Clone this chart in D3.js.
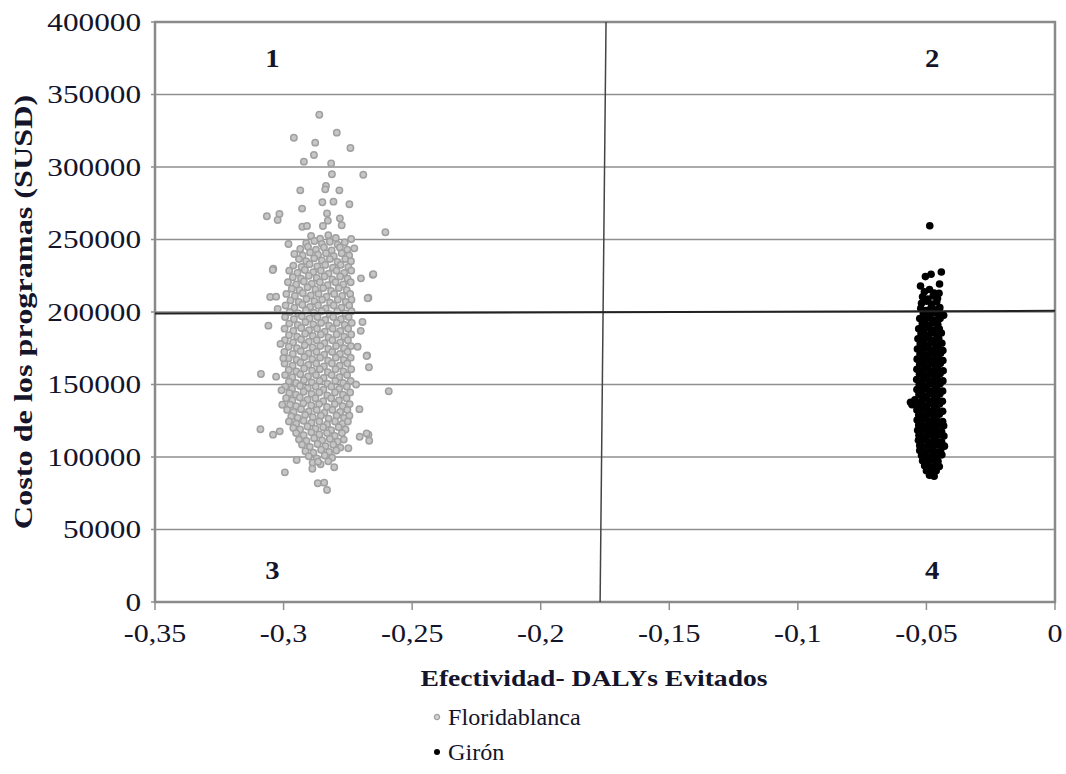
<!DOCTYPE html>
<html>
<head>
<meta charset="utf-8">
<script src="https://cdn.jsdelivr.net/npm/d3@7"></script>
<style>
  body { margin: 0; background: #fff; }
  text { font-family: "Liberation Serif", "Times New Roman", serif; fill: #14142a; }
</style>
</head>
<body>
<div id="chart"></div>
<script>
// tick values and labels
var xTicks = [-0.35, -0.3, -0.25, -0.2, -0.15, -0.1, -0.05, 0];
var xTickLabels = ["-0,35", "-0,3", "-0,25", "-0,2", "-0,15", "-0,1", "-0,05", "0"];
var yTicks = [0, 50000, 100000, 150000, 200000, 250000, 300000, 350000, 400000];
var yTickLabels = ["0", "50000", "100000", "150000", "200000", "250000", "300000", "350000", "400000"];

// quadrant split lines (slightly tilted in the original)
var splitX = [[-0.1746, 400000], [-0.1769, 0]];
var splitY = [[-0.35, 199000], [0, 200800]];
var quadrants = [["1", -0.3043, 375000], ["2", -0.0478, 375000], ["3", -0.3043, 22000], ["4", -0.0478, 22000]];

// Floridablanca simulations [DALYs, cost]
var floridablanca = [
  [-0.2893,252500],[-0.2858,250500],[-0.2826,253000],[-0.2797,251000],
  [-0.2912,247500],[-0.2880,249000],[-0.2851,247000],[-0.2820,248500],[-0.2790,246500],[-0.2762,248000],
  [-0.2935,243500],[-0.2905,245000],[-0.2874,243000],[-0.2843,244500],[-0.2813,242500],[-0.2781,244500],[-0.2752,243000],
  [-0.2958,240000],[-0.2926,239000],[-0.2897,241000],[-0.2866,239500],[-0.2835,240500],[-0.2805,238500],[-0.2774,240500],[-0.2745,239000],
  [-0.2940,236500],[-0.2912,235000],[-0.2881,237000],[-0.2851,235500],[-0.2820,236500],[-0.2790,234500],[-0.2760,236500],[-0.2738,235000],
  [-0.2962,232000],[-0.2930,231000],[-0.2899,233000],[-0.2869,231500],[-0.2838,232500],[-0.2808,230500],[-0.2778,232500],[-0.2748,231000],
  [-0.2978,228500],[-0.2946,227000],[-0.2917,229000],[-0.2885,227500],[-0.2855,228500],[-0.2825,226500],[-0.2794,228500],[-0.2764,227000],[-0.2737,228500],
  [-0.2964,224000],[-0.2932,223000],[-0.2902,225000],[-0.2871,223500],[-0.2841,224500],[-0.2810,222500],[-0.2780,224500],[-0.2751,223000],
  [-0.2983,220500],[-0.2951,219000],[-0.2921,221000],[-0.2890,219500],[-0.2859,220500],[-0.2829,218500],[-0.2798,220500],[-0.2768,219000],[-0.2739,220500],
  [-0.2968,216000],[-0.2938,215000],[-0.2907,217000],[-0.2876,215500],[-0.2846,216500],[-0.2815,214500],[-0.2785,216500],[-0.2754,215000],
  [-0.2989,212500],[-0.2956,211000],[-0.2925,213000],[-0.2894,211500],[-0.2864,212500],[-0.2833,210500],[-0.2803,212500],[-0.2772,211000],[-0.2741,212500],
  [-0.2973,208000],[-0.2941,207000],[-0.2911,209000],[-0.2880,207500],[-0.2850,208500],[-0.2819,206500],[-0.2789,208500],[-0.2758,207000],[-0.2736,208500],
  [-0.2992,204500],[-0.2958,203000],[-0.2927,205000],[-0.2897,203500],[-0.2866,204500],[-0.2836,202500],[-0.2805,204500],[-0.2775,203000],[-0.2745,204500],
  [-0.2976,200000],[-0.2943,199000],[-0.2913,201000],[-0.2882,199500],[-0.2852,200500],[-0.2821,198500],[-0.2791,200500],[-0.2760,199000],[-0.2736,200500],
  [-0.2994,196500],[-0.2960,195000],[-0.2929,197000],[-0.2899,195500],[-0.2868,196500],[-0.2838,194500],[-0.2807,196500],[-0.2777,195000],[-0.2747,196500],
  [-0.2978,192000],[-0.2945,191000],[-0.2915,193000],[-0.2884,191500],[-0.2854,192500],[-0.2823,190500],[-0.2793,192500],[-0.2762,191000],[-0.2735,192500],
  [-0.2996,188500],[-0.2962,187000],[-0.2931,189000],[-0.2901,187500],[-0.2870,188500],[-0.2840,186500],[-0.2809,188500],[-0.2779,187000],[-0.2749,188500],
  [-0.2979,184000],[-0.2947,183000],[-0.2916,185000],[-0.2886,183500],[-0.2855,184500],[-0.2825,182500],[-0.2794,184500],[-0.2764,183000],[-0.2737,184500],
  [-0.2995,180500],[-0.2963,179000],[-0.2932,181000],[-0.2902,179500],[-0.2871,180500],[-0.2841,178500],[-0.2810,180500],[-0.2780,179000],[-0.2750,180500],
  [-0.2980,176000],[-0.2948,175000],[-0.2918,177000],[-0.2887,175500],[-0.2857,176500],[-0.2826,174500],[-0.2796,176500],[-0.2765,175000],[-0.2738,176500],
  [-0.2997,172500],[-0.2964,171000],[-0.2933,173000],[-0.2903,171500],[-0.2872,172500],[-0.2842,170500],[-0.2811,172500],[-0.2781,171000],[-0.2751,172500],
  [-0.2981,168000],[-0.2949,167000],[-0.2919,169000],[-0.2888,167500],[-0.2858,168500],[-0.2827,166500],[-0.2797,168500],[-0.2766,167000],[-0.2739,168500],
  [-0.2996,164500],[-0.2965,163000],[-0.2934,165000],[-0.2904,163500],[-0.2873,164500],[-0.2843,162500],[-0.2812,164500],[-0.2782,163000],[-0.2752,164500],
  [-0.2980,160000],[-0.2950,159000],[-0.2920,161000],[-0.2889,159500],[-0.2859,160500],[-0.2828,158500],[-0.2798,160500],[-0.2767,159000],[-0.2737,160500],
  [-0.2994,156500],[-0.2966,155000],[-0.2935,157000],[-0.2905,155500],[-0.2874,156500],[-0.2844,154500],[-0.2813,156500],[-0.2783,155000],[-0.2753,156500],
  [-0.2979,152000],[-0.2951,151000],[-0.2921,153000],[-0.2890,151500],[-0.2860,152500],[-0.2829,150500],[-0.2799,152500],[-0.2768,151000],[-0.2739,152500],
  [-0.2993,148500],[-0.2967,147000],[-0.2936,149000],[-0.2906,147500],[-0.2875,148500],[-0.2845,146500],[-0.2814,148500],[-0.2784,147000],[-0.2754,148500],
  [-0.2978,144000],[-0.2952,143000],[-0.2922,145000],[-0.2891,143500],[-0.2861,144500],[-0.2830,142500],[-0.2800,144500],[-0.2769,143000],[-0.2741,144500],
  [-0.2990,140500],[-0.2966,139000],[-0.2937,141000],[-0.2907,139500],[-0.2876,140500],[-0.2846,138500],[-0.2815,140500],[-0.2785,139000],[-0.2755,140500],
  [-0.2975,136000],[-0.2951,135000],[-0.2923,137000],[-0.2892,135500],[-0.2862,136500],[-0.2831,134500],[-0.2801,136500],[-0.2770,135000],[-0.2743,136500],
  [-0.2986,132500],[-0.2961,131000],[-0.2932,133000],[-0.2902,131500],[-0.2871,132500],[-0.2841,130500],[-0.2810,132500],[-0.2780,131000],[-0.2752,132500],
  [-0.2970,128000],[-0.2945,127000],[-0.2916,129000],[-0.2886,127500],[-0.2855,128500],[-0.2825,126500],[-0.2794,128500],[-0.2765,127000],[-0.2744,128500],
  [-0.2979,124500],[-0.2951,123000],[-0.2922,125000],[-0.2892,123500],[-0.2861,124500],[-0.2831,122500],[-0.2800,124500],[-0.2771,123000],[-0.2750,124500],
  [-0.2962,120000],[-0.2936,119000],[-0.2907,121000],[-0.2876,119500],[-0.2846,120500],[-0.2815,118500],[-0.2786,120500],[-0.2759,119000],
  [-0.2951,116500],[-0.2922,115000],[-0.2892,117000],[-0.2861,115500],[-0.2831,116500],[-0.2801,114500],[-0.2773,116500],
  [-0.2940,112000],[-0.2911,111000],[-0.2881,113000],[-0.2850,111500],[-0.2820,112500],[-0.2790,110500],[-0.2766,112000],
  [-0.2928,108500],[-0.2898,107000],[-0.2868,109000],[-0.2837,107500],[-0.2807,108500],[-0.2779,106500],
  [-0.2915,104000],[-0.2884,103000],[-0.2854,105000],[-0.2823,103500],[-0.2795,104500],
  [-0.2902,100500],[-0.2871,99000],[-0.2840,101000],[-0.2811,99500],
  [-0.2887,96000],[-0.2856,95000],[-0.2826,97000],
  // scattered points around the main cloud
  [-0.2861,336000],[-0.2960,320200],[-0.2793,323700],[-0.2877,316800],[-0.2740,313100],[-0.2882,308300],
  [-0.2921,303700],[-0.2815,302500],[-0.2812,295000],[-0.2690,294700],[-0.2935,283900],[-0.2835,286900],
  [-0.2838,284600],[-0.2783,283900],[-0.2849,275700],[-0.2806,276100],[-0.2744,274300],[-0.2928,271300],
  [-0.3065,266000],[-0.3016,267600],[-0.3023,263400],[-0.2831,268000],[-0.2828,263000],[-0.2781,264600],
  [-0.2774,259800],[-0.2927,258800],[-0.2909,259300],[-0.2847,259300],[-0.2604,255000],[-0.2981,246900],
  [-0.2725,243900],[-0.2737,250300],[-0.3040,229900],[-0.2653,225700],[-0.2699,223200],[-0.3052,210300],
  [-0.3029,210600],[-0.2670,209900],[-0.3023,202100],[-0.3059,190600],[-0.2693,193100],[-0.2675,170100],
  [-0.3088,157200],[-0.3029,155400],[-0.2668,161900],[-0.2591,145300],[-0.3090,119100],[-0.3041,115400],
  [-0.3015,117700],[-0.2704,114000],[-0.2670,115400],[-0.2667,111200],[-0.2995,89400],[-0.2888,91900],
  [-0.2803,92900],[-0.2867,81900],[-0.2842,82300],[-0.2831,77200],[-0.2949,97900],[-0.2866,96800],
  [-0.2677,116300],[-0.2748,106000],[-0.3042,229000],[-0.2651,226000],[-0.2673,209500],[-0.2677,169700],
  [-0.3001,168100],[-0.2712,176000],[-0.2718,150000],[-0.2705,133000],[-0.2700,187000],[-0.3012,178000],
  [-0.3008,146000],[-0.3005,136000]
];

// Girón simulations [DALYs, cost]
var giron = [
  [-0.0487,259500],[-0.0442,227600],[-0.0482,226000],[-0.0504,224400],[-0.0523,217900],[-0.0449,219300],
  [-0.0451,212900],[-0.0433,197700],
  [-0.0508,214000],[-0.0488,215500],[-0.0470,213000],
  [-0.0515,210500],[-0.0495,209000],[-0.0474,211000],[-0.0457,209500],
  [-0.0519,206000],[-0.0499,207500],[-0.0479,205500],[-0.0460,207000],
  [-0.0522,202500],[-0.0502,201000],[-0.0482,203000],[-0.0462,201500],[-0.0448,203000],
  [-0.0512,199000],[-0.0492,198000],[-0.0472,199500],[-0.0453,198500],
  [-0.0526,195500],[-0.0506,194500],[-0.0486,196000],[-0.0466,194500],[-0.0447,195500],
  [-0.0516,192000],[-0.0496,191000],[-0.0476,192500],[-0.0456,191500],
  [-0.0530,188500],[-0.0510,187500],[-0.0490,189000],[-0.0470,187500],[-0.0450,188500],
  [-0.0521,185000],[-0.0500,184000],[-0.0480,185500],[-0.0460,184500],[-0.0442,185500],
  [-0.0533,181500],[-0.0512,180500],[-0.0492,182000],[-0.0472,180500],[-0.0452,181500],
  [-0.0524,178000],[-0.0503,177000],[-0.0483,178500],[-0.0463,177500],[-0.0440,178500],
  [-0.0535,174500],[-0.0514,173500],[-0.0494,175000],[-0.0474,173500],[-0.0454,174500],[-0.0436,173500],
  [-0.0525,171000],[-0.0505,170000],[-0.0485,171500],[-0.0465,170500],[-0.0445,171500],
  [-0.0536,167500],[-0.0515,166500],[-0.0495,168000],[-0.0475,166500],[-0.0455,167500],[-0.0436,166500],
  [-0.0526,164000],[-0.0506,163000],[-0.0486,164500],[-0.0466,163500],[-0.0446,164500],
  [-0.0537,160500],[-0.0516,159500],[-0.0496,161000],[-0.0476,159500],[-0.0456,160500],[-0.0435,159500],
  [-0.0527,157000],[-0.0507,156000],[-0.0487,157500],[-0.0467,156500],[-0.0447,157500],
  [-0.0538,153500],[-0.0517,152500],[-0.0497,154000],[-0.0477,152500],[-0.0457,153500],[-0.0436,152500],
  [-0.0528,150000],[-0.0508,149000],[-0.0488,150500],[-0.0468,149500],[-0.0447,150500],
  [-0.0537,146500],[-0.0518,145500],[-0.0498,147000],[-0.0478,145500],[-0.0458,146500],[-0.0437,145500],
  [-0.0529,143000],[-0.0509,142000],[-0.0489,143500],[-0.0469,142500],[-0.0448,143500],
  [-0.0545,139500],[-0.0519,138500],[-0.0499,140000],[-0.0479,138500],[-0.0459,139500],[-0.0438,138500],
  [-0.0562,137800],[-0.0556,136000],
  [-0.0530,136000],[-0.0510,135000],[-0.0490,136500],[-0.0470,135500],[-0.0449,136500],
  [-0.0537,132500],[-0.0520,131500],[-0.0500,133000],[-0.0480,131500],[-0.0460,132500],[-0.0437,131500],
  [-0.0530,129000],[-0.0511,128000],[-0.0491,129500],[-0.0471,128500],[-0.0450,129500],
  [-0.0536,125500],[-0.0521,124500],[-0.0501,126000],[-0.0481,124500],[-0.0461,125500],[-0.0437,124500],
  [-0.0530,122000],[-0.0512,121000],[-0.0492,122500],[-0.0472,121500],[-0.0451,122500],[-0.0433,121500],
  [-0.0534,118500],[-0.0521,117500],[-0.0502,119000],[-0.0482,117500],[-0.0462,118500],[-0.0441,117500],
  [-0.0529,115000],[-0.0512,114000],[-0.0492,115500],[-0.0472,114500],[-0.0452,115500],[-0.0432,114500],
  [-0.0531,111500],[-0.0522,110500],[-0.0502,112000],[-0.0482,110500],[-0.0462,111500],[-0.0441,110500],
  [-0.0526,108000],[-0.0512,107000],[-0.0492,108500],[-0.0472,107500],[-0.0452,108500],[-0.0430,107500],
  [-0.0526,104500],[-0.0505,103500],[-0.0485,105000],[-0.0465,103500],[-0.0445,104500],
  [-0.0519,101000],[-0.0498,100000],[-0.0478,101500],[-0.0458,100500],[-0.0440,101500],
  [-0.0515,97500],[-0.0495,96500],[-0.0475,98000],[-0.0455,97000],
  [-0.0507,94000],[-0.0487,93000],[-0.0467,94500],[-0.0450,93500],
  [-0.0500,90500],[-0.0480,89500],[-0.0462,90500],
  [-0.0488,87500],[-0.0470,86800]
];

var legendLabels = ["Floridablanca", "Girón"];

var width = 1066, height = 774;
var plotLeft = 155, plotRight = 1055, plotTop = 22, plotBottom = 602;

var svg = d3.select("#chart")
  .append("svg")
    .attr("width", width)
    .attr("height", height);

var x = d3.scaleLinear().domain([-0.35, 0]).range([plotLeft, plotRight]);
var y = d3.scaleLinear().domain([0, 400000]).range([plotBottom, plotTop]);

// glyphs in the original are wider than Liberation Serif, so stretch them a bit
function place(px, py, s) {
  return "translate(" + px + "," + py + ") scale(" + s + ",1)";
}

// horizontal gridlines
svg.append("g")
  .selectAll("line")
  .data(yTicks)
  .enter()
  .append("line")
    .attr("x1", plotLeft).attr("x2", plotRight)
    .attr("y1", function(d) { return y(d); })
    .attr("y2", function(d) { return y(d); })
    .attr("stroke", "#8f8f8f")
    .attr("stroke-width", 1.5);

// x axis ticks
svg.append("g")
  .selectAll("line")
  .data(xTicks)
  .enter()
  .append("line")
    .attr("x1", function(d) { return x(d); })
    .attr("x2", function(d) { return x(d); })
    .attr("y1", plotBottom).attr("y2", plotBottom + 8)
    .attr("stroke", "#8f8f8f")
    .attr("stroke-width", 1.5);

// y axis ticks
svg.append("g")
  .selectAll("line")
  .data(yTicks)
  .enter()
  .append("line")
    .attr("x1", plotLeft - 4).attr("x2", plotLeft)
    .attr("y1", function(d) { return y(d); })
    .attr("y2", function(d) { return y(d); })
    .attr("stroke", "#8f8f8f")
    .attr("stroke-width", 1.5);

// plot frame
svg.append("rect")
  .attr("x", plotLeft).attr("y", plotTop)
  .attr("width", plotRight - plotLeft).attr("height", plotBottom - plotTop)
  .attr("fill", "none")
  .attr("stroke", "#8a8a8a")
  .attr("stroke-width", 2.5);

// Floridablanca points: gray rings
svg.append("g")
  .selectAll("circle")
  .data(floridablanca)
  .enter()
  .append("circle")
    .attr("cx", function(d) { return x(d[0]); })
    .attr("cy", function(d) { return y(d[1]); })
    .attr("r", 3.2)
    .attr("fill", "#c6c6c6")
    .attr("stroke", "#a0a0a0")
    .attr("stroke-width", 1.5);

// Girón points: black dots
svg.append("g")
  .selectAll("circle")
  .data(giron)
  .enter()
  .append("circle")
    .attr("cx", function(d) { return x(d[0]); })
    .attr("cy", function(d) { return y(d[1]); })
    .attr("r", 3.8)
    .attr("fill", "#000");

// quadrant lines
var line = d3.line()
  .x(function(d) { return x(d[0]); })
  .y(function(d) { return y(d[1]); });

svg.append("path")
  .attr("d", line(splitX))
  .attr("fill", "none")
  .attr("stroke", "#444")
  .attr("stroke-width", 1.5);

svg.append("path")
  .attr("d", line(splitY))
  .attr("fill", "none")
  .attr("stroke", "#222")
  .attr("stroke-width", 2);

// quadrant numbers
svg.append("g")
  .selectAll("text")
  .data(quadrants)
  .enter()
  .append("text")
    .attr("transform", function(d) { return place(x(d[1]), y(d[2]), 1.15); })
    .attr("dy", "0.35em")
    .attr("text-anchor", "middle")
    .style("font-size", "25px")
    .style("font-weight", "bold")
    .text(function(d) { return d[0]; });

// tick labels
svg.append("g")
  .selectAll("text")
  .data(xTicks)
  .enter()
  .append("text")
    .attr("transform", function(d) { return place(x(d), 633, 1.2); })
    .attr("dy", "0.35em")
    .attr("text-anchor", "middle")
    .style("font-size", "25px")
    .text(function(d, i) { return xTickLabels[i]; });

svg.append("g")
  .selectAll("text")
  .data(yTicks)
  .enter()
  .append("text")
    .attr("transform", function(d) { return place(plotLeft - 14, y(d), 1.25); })
    .attr("dy", "0.35em")
    .attr("text-anchor", "end")
    .style("font-size", "25px")
    .text(function(d, i) { return yTickLabels[i]; });

// axis titles
svg.append("text")
  .attr("transform", place(594, 678, 1.15))
  .attr("dy", "0.35em")
  .attr("text-anchor", "middle")
  .style("font-size", "24px")
  .style("font-weight", "bold")
  .text("Efectividad- DALYs Evitados");

svg.append("text")
  .attr("transform", "translate(23," + ((plotTop + plotBottom) / 2) + ") rotate(-90) scale(1.24,1)")
  .attr("dy", "0.35em")
  .attr("text-anchor", "middle")
  .style("font-size", "26px")
  .style("font-weight", "bold")
  .text("Costo de los programas (SUSD)");

// legend
var legend = svg.append("g")
  .selectAll("g")
  .data(legendLabels)
  .enter()
  .append("g")
    .attr("transform", function(d, i) { return "translate(437," + (717 + i * 35) + ")"; });

legend.append("circle")
  .attr("r", function(d, i) { return i == 0 ? 2.6 : 3; })
  .attr("fill", function(d, i) { return i == 0 ? "#d2d2d2" : "#000"; })
  .attr("stroke", function(d, i) { return i == 0 ? "#a0a0a0" : "none"; })
  .attr("stroke-width", 1.3);

legend.append("text")
  .attr("transform", "translate(11,0) scale(1.05,1)")
  .attr("dy", "0.35em")
  .style("font-size", "23px")
  .text(function(d) { return d; });
</script>
</body>
</html>
